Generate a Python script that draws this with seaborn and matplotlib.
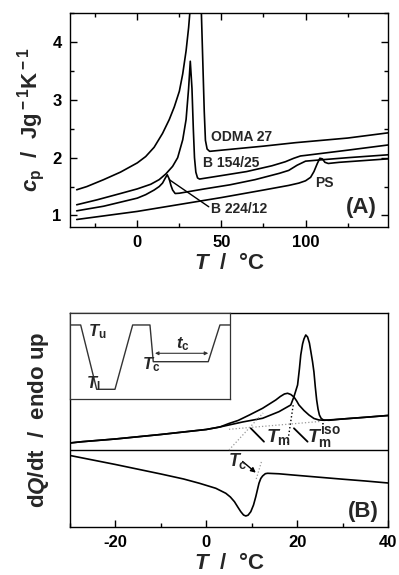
import numpy as np
import pandas as pd
import matplotlib
matplotlib.use("Agg")
import matplotlib.pyplot as plt
from matplotlib.ticker import MultipleLocator, FixedLocator
import seaborn as sns

# ---------------- Panel A data (T in °C, cp in J g^-1 K^-1) ----------------
odma_T = [-36, -30, -20, -10, 0, 5, 10, 15, 19, 22, 25, 27, 29, 30.5, 31.5,
          38.0, 39.0, 39.8, 40.5, 41.5, 43, 50, 75, 94, 125, 149]
odma_cp = [1.445, 1.50, 1.62, 1.75, 1.91, 2.02, 2.18, 2.42, 2.66, 2.88, 3.15, 3.45, 3.85, 4.25, 4.6,
           4.6, 3.6, 2.8, 2.3, 2.15, 2.11, 2.13, 2.2, 2.26, 2.34, 2.43]

b154_T = [-36, -24, -10, 0, 8, 13, 17, 21, 24, 27, 29, 30.5, 31.5, 32.5, 33.3, 34.0, 34.8,
          35.8, 37, 50, 65, 80, 88, 93, 97, 100, 125, 149]
b154_cp = [1.185, 1.27, 1.38, 1.46, 1.54, 1.62, 1.72, 1.85, 2.0, 2.31, 2.66, 3.2, 3.67, 3.2, 2.5, 2.0, 1.75,
           1.65, 1.63, 1.69, 1.76, 1.86, 1.93, 1.99, 2.03, 2.04, 2.13, 2.22]

b224_T = [-36, -20, 0, 5, 10, 13, 15, 16.5, 17.8, 19.0, 20.0, 21.0, 22.5, 25, 40, 55, 70, 84.5,
          90, 95, 100, 110, 125, 149]
b224_cp = [1.08, 1.16, 1.30, 1.36, 1.44, 1.50, 1.56, 1.64, 1.705, 1.63, 1.52, 1.44, 1.38, 1.385, 1.46, 1.53, 1.62, 1.73,
           1.78, 1.87, 1.94, 1.965, 2.0, 2.05]

ps_T = [-36, 0, 25, 50, 75, 90, 96, 100, 103, 105, 107, 108.5, 110, 111.5, 113.5, 120, 149]
ps_cp = [0.93, 1.07, 1.19, 1.31, 1.44, 1.52, 1.56, 1.60, 1.66, 1.76, 1.90, 1.99, 1.98, 1.92, 1.90, 1.92, 1.98]

a_xticks = [0, 50, 100]
a_yticks = [1, 2, 3, 4]

# ---------------- Panel B data (T in °C, heat flow in arbitrary units) ----------------
heat1_T = [-30, -27.3, -20, -10, 0, 3, 5, 7, 9.5, 12.4, 15.3, 16.3, 17.2, 17.9, 18.6, 19.3, 19.9, 20.4,
           21.0, 21.5, 22.6, 23.7, 24.8, 26, 30, 35, 40]
heat1_q = [84.0, 85.3, 88, 92.5, 97.5, 100, 103.5, 106.5, 112, 118.7, 127, 130.5, 133, 133.7, 132.5, 130, 126, 122,
           119, 116.5, 112, 108.5, 107, 106.7, 108, 109.7, 111.5]

heat2_T = [-30, -27.3, -20, -10, 0, 3, 5, 8, 12.4, 16, 18.6, 19.3, 20.1, 20.5, 20.8, 21.2, 21.5, 21.9,
           22.3, 22.7, 23.0, 23.4, 23.7, 24.0, 24.3, 24.6, 24.9, 25.3, 25.8, 27, 30, 35, 40]
heat2_q = [84.0, 85.3, 88, 92.5, 97.5, 100, 102, 105, 108.7, 115.3, 122, 130.3, 142, 158, 172, 183, 188, 192,
           190, 184, 176, 165, 155, 140, 127, 118, 112, 108.5, 107, 106.7, 108, 109.7, 111.5]

cool_T = [-30, -20, -10, -5, -1.5, 2.1, 4.3, 5.3, 6.2, 7.0, 7.6, 8.2, 8.7, 9.2, 9.8, 10.4, 10.9, 11.3,
          11.6, 12.0, 12.4, 13.0, 13.5, 16, 19, 25, 30, 35, 40]
cool_q = [71.5, 62.5, 53, 48, 43.7, 38.7, 33.7, 30, 25.3, 19.5, 15.3, 12, 11, 11.8, 15.3, 22, 30.3, 38,
          43.7, 48.5, 51, 53.3, 53.7, 53.2, 52, 49.7, 47.8, 46, 44]

b_xticks = [-20, 0, 20, 40]

# inset: temperature program (time, temperature), arbitrary units
prog_t = [0, 10.7, 26.7, 45, 62.7, 80, 83.3, 138.3, 150, 160]
prog_temp = [74, 74, 9.7, 9.7, 74, 74, 37.3, 37.3, 74, 74]

# ---------------- style ----------------
sns.set_theme(style="ticks")
plt.rcParams["font.family"] = ["Liberation Sans", "DejaVu Sans"]
plt.rcParams["font.weight"] = "bold"
plt.rcParams["axes.labelweight"] = "bold"
plt.rcParams["axes.unicode_minus"] = False
plt.rcParams["mathtext.fontset"] = "custom"
plt.rcParams["mathtext.rm"] = "Liberation Sans:bold"
plt.rcParams["mathtext.bf"] = "Liberation Sans:bold"
plt.rcParams["mathtext.it"] = "Liberation Sans:bold:italic"
plt.rcParams["mathtext.sf"] = "Liberation Sans:bold"

LW = 1.2
fig = plt.figure(figsize=(3.99, 5.75), dpi=100)
axA = fig.add_axes([0.1754, 0.6052, 0.797, 0.3717])
axB = fig.add_axes([0.1754, 0.0835, 0.797, 0.3722])


def draw(ax, xs, ys, **kw):
    df = pd.DataFrame({"x": xs, "y": ys})
    sns.lineplot(data=df, x="x", y="y", ax=ax, sort=False, estimator=None,
                 color=kw.pop("color", "black"), lw=kw.pop("lw", LW), **kw)


# ---------------- Panel A ----------------
for T, cp in [(odma_T, odma_cp), (b154_T, b154_cp), (b224_T, b224_cp), (ps_T, ps_cp)]:
    draw(axA, T, cp)

axA.set_xlim(-40, 149)
axA.set_ylim(0.8, 4.5)
axA.xaxis.set_major_locator(FixedLocator(a_xticks))
axA.xaxis.set_minor_locator(MultipleLocator(25))
axA.yaxis.set_major_locator(FixedLocator(a_yticks))
axA.yaxis.set_minor_locator(MultipleLocator(0.5))
axA.tick_params(which="both", direction="in", top=True, right=True, width=1.0,
                labelsize=12, pad=6, colors="black")
axA.tick_params(which="major", length=5)
axA.tick_params(which="minor", length=3)
axA.set_xlabel(r"$T$  /  °C", fontsize=16, labelpad=2)
axA.set_ylabel(r"$c_{\rm p}$  /  Jg$^{\rm -1}$K$^{\rm -1}$", fontsize=16, labelpad=4)
for s in axA.spines.values():
    s.set_linewidth(1.0)
    s.set_color("black")

axA.text(44, 2.35, "ODMA 27", fontsize=10, fontweight="bold", va="center", ha="left")
axA.text(39, 1.90, "B 154/25", fontsize=10, fontweight="bold", va="center", ha="left")
axA.text(105.5, 1.56, "PS", fontsize=10, fontweight="bold", va="center", ha="left")
axA.text(43.8, 1.12, "B 224/12", fontsize=10, fontweight="bold", va="center", ha="left")
axA.plot([19, 42.5], [1.62, 1.15], color="black", lw=1.0)
axA.text(124, 1.13, "(A)", fontsize=16, fontweight="bold", va="center", ha="left")

# ---------------- Panel B ----------------
draw(axB, heat1_T, heat1_q)
draw(axB, heat2_T, heat2_q)
draw(axB, cool_T, cool_q)
axB.axhline(77, color="black", lw=1.0)

axB.set_xlim(-30, 40)
axB.set_ylim(0, 214)
axB.xaxis.set_major_locator(FixedLocator(b_xticks))
axB.xaxis.set_minor_locator(MultipleLocator(10))
axB.set_yticks([])
axB.tick_params(which="both", direction="in", top=False, right=False, width=1.0,
                labelsize=12, pad=6, colors="black")
axB.tick_params(which="major", length=5)
axB.tick_params(which="minor", length=3)
axB.set_xlabel(r"$T$  /  °C", fontsize=16, labelpad=2)
axB.set_ylabel(r"d$Q$/dt  /  endo up", fontsize=16, labelpad=14)
for s in axB.spines.values():
    s.set_linewidth(1.0)
    s.set_color("black")

# construction lines
axB.plot([5, 25], [97.7, 105.5], color="#999999", lw=0.9, ls=":")
axB.plot([5, 12.5], [77, 114], color="#999999", lw=0.9, ls=":")
axB.plot([17.9, 19.2], [84, 124], color="black", lw=1.0, ls=":")
axB.plot([9.8, 12.7], [98.7, 85.3], color="black", lw=1.3)
axB.plot([19.3, 22.3], [98.7, 85.3], color="black", lw=1.3)
axB.plot([11.0, 12.2], [48, 66], color="#999999", lw=0.9, ls=":")
axB.annotate("", xy=(10.9, 54.3), xytext=(8.0, 65.5),
             arrowprops=dict(arrowstyle="-|>", color="black", lw=1.0,
                             mutation_scale=7, shrinkA=0, shrinkB=0))
axB.text(13.2, 90, r"$T_{\rm m}$", fontsize=14, va="center", ha="left")
axB.text(22.2, 90, r"$T_{\rm m}^{\rm iso}$", fontsize=14, va="center", ha="left")
axB.text(4.8, 66, r"$T_{\rm c}$", fontsize=13, va="center", ha="left")
axB.text(31.2, 15.5, "(B)", fontsize=16, fontweight="bold", va="center", ha="left")

# inset with temperature programme
axI = axB.inset_axes([0, 0.598, 0.503, 0.402])
draw(axI, prog_t, prog_temp, color="#333333", lw=1.0)
axI.set_xlim(0, 160)
axI.set_ylim(0, 86)
axI.set_xticks([])
axI.set_yticks([])
axI.set_xlabel("")
axI.set_ylabel("")
for s in axI.spines.values():
    s.set_linewidth(0.9)
    s.set_color("#333333")
axI.text(18, 67, r"$T_{\rm u}$", fontsize=12, va="center", ha="left")
axI.text(16, 15.5, r"$T_{\rm l}$", fontsize=12, va="center", ha="left")
axI.text(72, 34, r"$T_{\rm c}$", fontsize=12, va="center", ha="left")
axI.text(113, 55, r"$t_{\rm c}$", fontsize=12, va="center", ha="center")
axI.annotate("", xy=(138.3, 45.7), xytext=(85, 45.7),
             arrowprops=dict(arrowstyle="<|-|>", color="#333333", lw=0.8,
                             mutation_scale=5, shrinkA=0, shrinkB=0))

fig.savefig("out.png", dpi=100)
